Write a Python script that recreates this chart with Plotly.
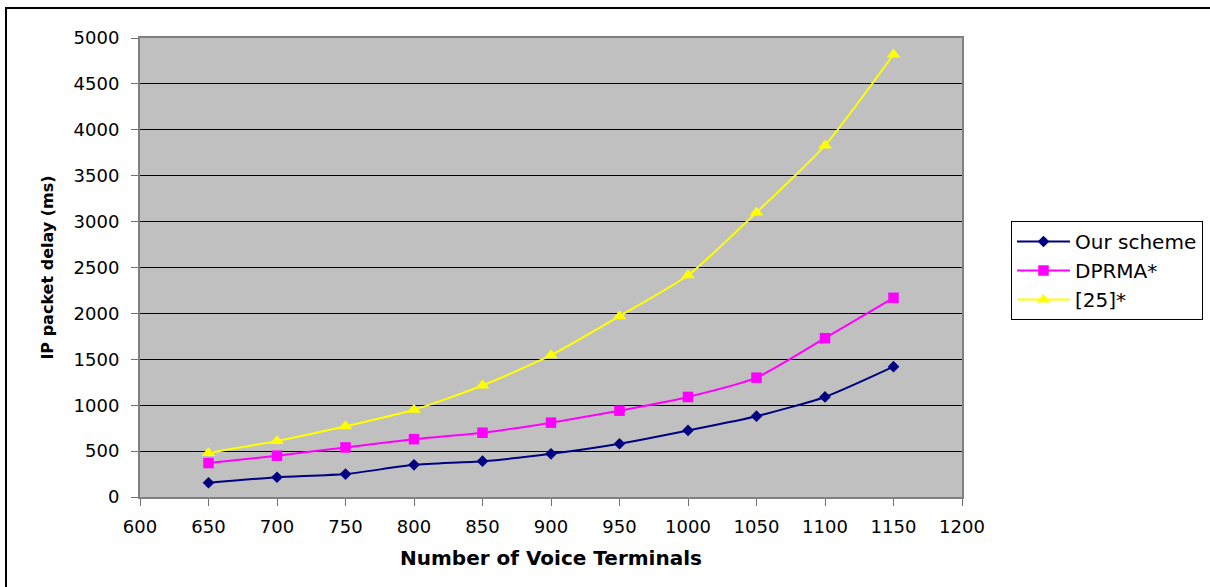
import plotly.graph_objects as go

# Number of voice terminals on the x axis
terminals = [650, 700, 750, 800, 850, 900, 950, 1000, 1050, 1100, 1150]

# Mean IP packet delay (ms) for each scheme
our_scheme = [155, 215, 250, 350, 390, 470, 580, 725, 880, 1090, 1420]
dprma = [370, 450, 540, 630, 700, 810, 940, 1090, 1300, 1730, 2170]
ref25 = [480, 610, 770, 950, 1215, 1545, 1970, 2415, 3100, 3830, 4820]

series_names = ["Our scheme", "DPRMA*", "[25]*"]

W, H = 1210, 587
L, R, T, B = 140, 248, 38, 90
PW, PH = W - L - R, H - T - B


def px_x(p):
    return (p - L) / PW


def px_y(p):
    return (H - B - p) / PH


FONT = "DejaVu Sans"

fig = go.Figure()

styles = [
    dict(color="#000080", symbol="diamond", size=9),
    dict(color="#FF00FF", symbol="square", size=10.5),
    dict(color="#FFFF00", symbol="triangle-up", size=12),
]

for name, vals, st in zip(series_names, [our_scheme, dprma, ref25], styles):
    fig.add_trace(go.Scatter(
        x=terminals, y=vals, name=name, mode="lines+markers",
        legendgroup=name,
        line=dict(color=st["color"], width=2, shape="spline", smoothing=0.6),
        marker=dict(symbol=st["symbol"], size=st["size"], color=st["color"],
                    line=dict(width=0)),
    ))

axis_common = dict(
    showline=True, linecolor="#808080", linewidth=2, mirror=True,
    ticks="outside", ticklen=7, tickwidth=1, tickcolor="#707070",
    tickfont=dict(family=FONT, size=18, color="black"),
    zeroline=False,
)

fig.update_xaxes(range=[600, 1200], dtick=50, tick0=600, showgrid=False,
                 ticklabelstandoff=5,
                 title=dict(text="<b>Number of Voice Terminals</b>",
                            font=dict(family=FONT, size=20, color="black"),
                            standoff=15),
                 **axis_common)
fig.update_yaxes(range=[0, 5000], dtick=500, tick0=0, showgrid=True,
                 gridcolor="black", gridwidth=1, ticklabelstandoff=8,
                 title=dict(text="<b>IP packet delay (ms)</b>",
                            font=dict(family=FONT, size=16, color="black"),
                            standoff=16),
                 **axis_common)

# outer frame around the whole chart
fig.add_shape(type="rect", xref="paper", yref="paper",
              x0=px_x(6), x1=px_x(W + 10), y0=px_y(H + 10), y1=px_y(8),
              line=dict(color="black", width=2), fillcolor="rgba(0,0,0,0)")

fig.update_layout(
    width=W, height=H,
    margin=dict(l=L, r=R, t=T, b=B, autoexpand=False),
    paper_bgcolor="white", plot_bgcolor="#C0C0C0",
    showlegend=True,
    legend=dict(xref="container", yref="container",
                x=1011 / W, y=1 - 221 / H, xanchor="left", yanchor="top",
                bordercolor="black", borderwidth=1, bgcolor="white",
                font=dict(family=FONT, size=20, color="black"),
                tracegroupgap=0, itemwidth=53),
)

fig.write_html("out.html")
